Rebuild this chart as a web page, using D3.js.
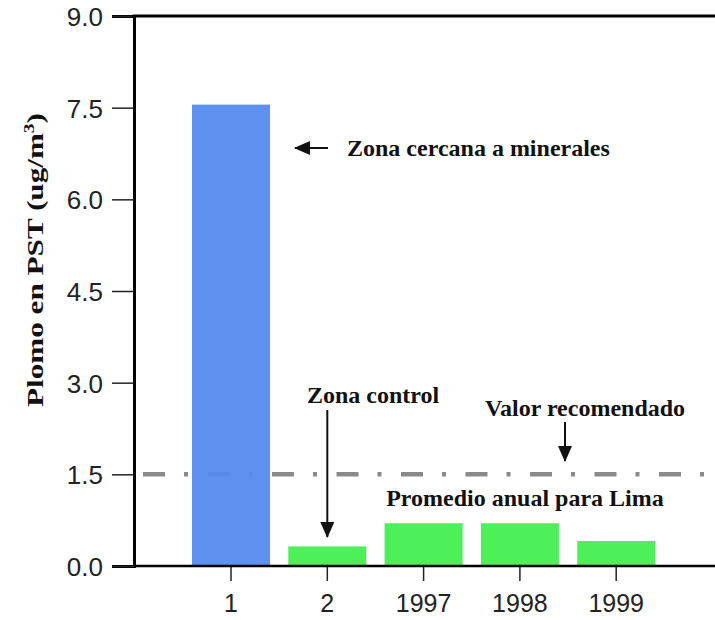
<!DOCTYPE html>
<html>
<head>
<meta charset="utf-8">
<script src="https://cdn.jsdelivr.net/npm/d3@7"></script>
<style>
  body { margin: 0; background: #fff; }
  .tick text { font-family: "Liberation Sans", Arial, sans-serif; }
  .note { font-family: "Liberation Serif", "Times New Roman", serif; font-weight: bold; font-size: 24px; fill: #111; }
</style>
</head>
<body>
<svg id="chart"></svg>
<script>
// data
var categories = ["1", "2", "1997", "1998", "1999"];
var values = [7.55, 0.32, 0.70, 0.70, 0.41];
var barColors = ["#5489ef", "#4ef05a", "#4ef05a", "#4ef05a", "#4ef05a"];
var yTicks = [0, 1.5, 3, 4.5, 6, 7.5, 9];
var recommended = 1.5;

var width = 715, height = 620;
var margin = { top: 16, right: 0, bottom: 54, left: 134 };

var svg = d3.select("#chart").attr("width", width).attr("height", height);

var y = d3.scaleLinear().domain([0, 9]).range([height - margin.bottom, margin.top]);

var x = d3.scaleBand()
  .domain(categories)
  .range([182.85, 664.35])
  .paddingInner(0.19)
  .paddingOuter(0.095);

// recommended value line (dash-dot), under the bars
svg.append("line")
  .attr("x1", margin.left)
  .attr("x2", width)
  .attr("y1", y(recommended))
  .attr("y2", y(recommended))
  .attr("stroke", "#8a8a8a")
  .attr("stroke-width", 4.5)
  .attr("stroke-dasharray", "22,19,4,19.5")
  .attr("stroke-dashoffset", 55.5);

// bars
svg.selectAll("rect.bar")
  .data(values)
  .enter()
  .append("rect")
  .attr("class", "bar")
  .attr("x", function (d, i) { return x(categories[i]); })
  .attr("width", x.bandwidth())
  .attr("y", function (d) { return y(d); })
  .attr("height", function (d) { return y(0) - y(d); })
  .attr("fill", function (d, i) { return barColors[i]; })
  .attr("fill-opacity", function (d, i) { return i == 0 ? 0.94 : 1; });

// Y axis
var yAxis = svg.append("g")
  .attr("transform", "translate(" + margin.left + ",0)")
  .call(d3.axisLeft(y).tickValues(yTicks).tickFormat(d3.format(".1f")).tickSize(22).tickPadding(9));
yAxis.select(".domain").attr("stroke", "#000").attr("stroke-width", 3);
yAxis.selectAll(".tick line").attr("stroke", "#222").attr("stroke-width", 1.5);
yAxis.selectAll(".tick text").style("font-size", "26px").attr("fill", "#222").attr("dy", "0.36em");

// X axis
var xAxis = svg.append("g")
  .attr("transform", "translate(0," + y(0) + ")")
  .call(d3.axisBottom(x).tickSize(15).tickPadding(13));
xAxis.select(".domain").remove();
xAxis.selectAll(".tick line").attr("stroke", "#222").attr("stroke-width", 1.5);
xAxis.selectAll(".tick text").style("font-size", "25px").attr("fill", "#222");

svg.append("line")
  .attr("x1", margin.left).attr("x2", width)
  .attr("y1", y(0)).attr("y2", y(0))
  .attr("stroke", "#000").attr("stroke-width", 2.5);

// top frame line
svg.append("line")
  .attr("x1", margin.left - 1.5).attr("x2", width)
  .attr("y1", y(9)).attr("y2", y(9))
  .attr("stroke", "#000").attr("stroke-width", 3);

// y label
svg.append("text")
  .attr("class", "note")
  .attr("transform", "translate(43,260) rotate(-90)")
  .style("text-anchor", "middle")
  .style("font-size", "24px")
  .attr("textLength", 294)
  .attr("lengthAdjust", "spacingAndGlyphs")
  .html('Plomo en PST (ug/m<tspan dy="-9" font-size="15px">3</tspan><tspan dy="9">)</tspan>');

// arrow marker
svg.append("defs").append("marker")
  .attr("id", "head")
  .attr("viewBox", "0 0 16 14")
  .attr("refX", 15).attr("refY", 7)
  .attr("markerWidth", 16).attr("markerHeight", 14)
  .attr("markerUnits", "userSpaceOnUse")
  .attr("orient", "auto")
  .append("path")
  .attr("d", "M0,0 L16,7 L0,14 Z")
  .attr("fill", "#111");

function arrow(x1, y1, x2, y2) {
  svg.append("line")
    .attr("x1", x1).attr("y1", y1).attr("x2", x2).attr("y2", y2)
    .attr("stroke", "#111").attr("stroke-width", 2)
    .attr("marker-end", "url(#head)");
}

// annotations
svg.append("text").attr("class", "note").attr("x", 347).attr("y", 156).text("Zona cercana a minerales");
arrow(328, 148, 295, 148);

svg.append("text").attr("class", "note").attr("x", 373).attr("y", 403).style("text-anchor", "middle").text("Zona control");
arrow(x("2") + x.bandwidth() / 2, 410, x("2") + x.bandwidth() / 2, 537);

svg.append("text").attr("class", "note").attr("x", 585).attr("y", 416).style("text-anchor", "middle").text("Valor recomendado");
arrow(565, 422, 565, 461);

svg.append("text").attr("class", "note").attr("x", 525).attr("y", 506).style("text-anchor", "middle").text("Promedio anual para Lima");
</script>
</body>
</html>
